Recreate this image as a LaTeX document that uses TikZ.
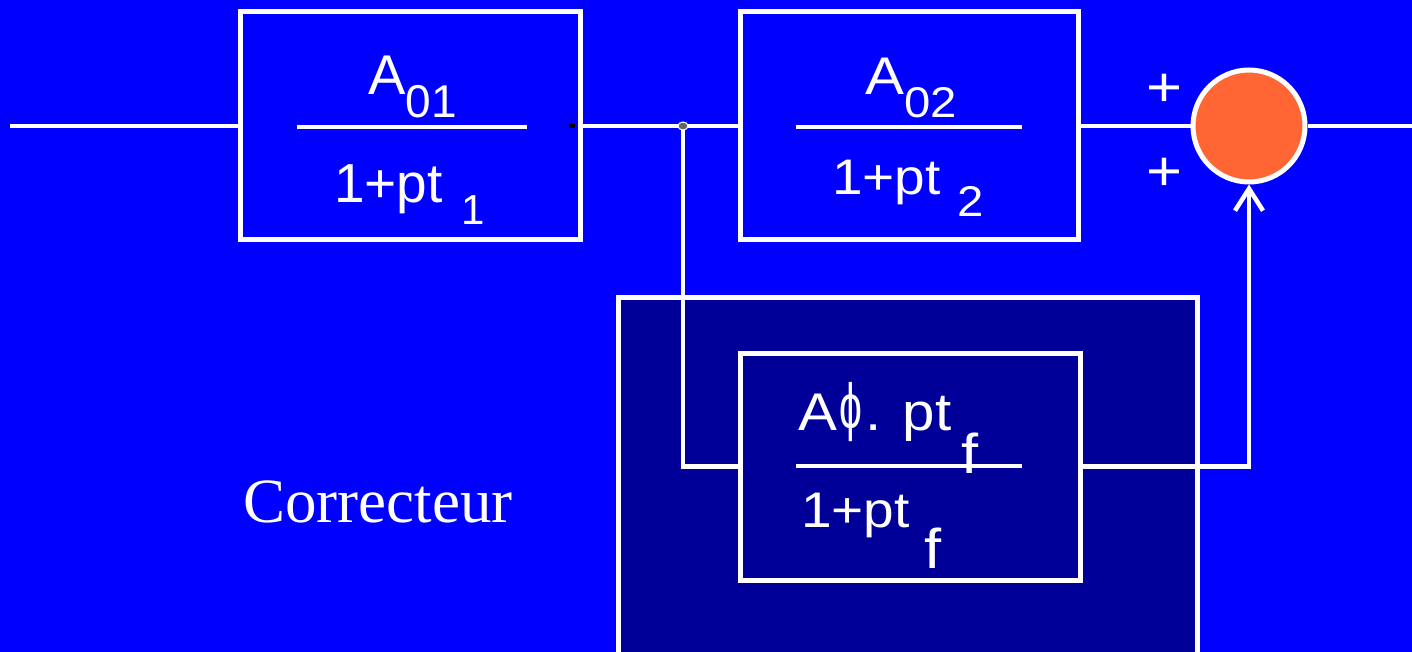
\documentclass[tikz,border=0pt]{standalone}
\usepackage{fontspec}
\setmainfont{Liberation Sans}
\newfontfamily\wide{Liberation Sans}[FakeStretch=1.1]
\newfontfamily\serifrm{Liberation Serif}
\usetikzlibrary{arrows.meta,shapes.geometric}
\definecolor{bgblue}{HTML}{0000FF}
\definecolor{navy}{HTML}{000099}
\definecolor{sumorange}{HTML}{FF6633}
\newcommand{\fsz}[1]{\fontsize{#1}{#1}\selectfont}

\begin{document}
\begin{tikzpicture}[x=1pt,y=-1pt,
  wire/.style={white,line width=4.5pt},
  block/.style={draw=white,line width=5pt,rectangle,inner sep=0pt},
  bar/.style={white,line width=4.5pt},
  txt/.style={text=white,inner sep=0pt,anchor=base west},
  sign/.style={text=white,inner sep=0pt,font=\wide\fsz{56}},
]
\useasboundingbox (0,0) rectangle (1412,652);
\clip (0,0) rectangle (1412,652);
\fill[bgblue] (0,0) rectangle (1412,652);

% corrector enclosure (runs off the bottom edge)
\node[block,fill=navy,anchor=north west,minimum width=579pt,minimum height=420pt] (corr) at (616,295) {};

% transfer blocks
\node[block,minimum width=340pt,minimum height=228pt] (b1) at (410,126) {};
\node[block,minimum width=338pt,minimum height=228pt] (b2) at (909,126) {};
\node[block,fill=navy,minimum width=340pt,minimum height=227pt] (bf) at (910,466.5) {};
\node[circle,draw=white,fill=sumorange,line width=5pt,minimum size=112pt,inner sep=0pt] (sum) at (1249,126) {};

\coordinate (in) at (10,126);
\coordinate (out) at (1412,126);
\coordinate (jp) at (683,126);

% signal paths
\draw[wire] (in) -- (b1.west);
\draw[wire] (b1.east) -- (b2.west);
\draw[wire] (b2.east) -- (sum.west);
\draw[wire] (sum.east) -- (out);
\draw[wire] (jp) |- (bf.west);
\draw[wire,-{Straight Barb[length=22pt,width=28pt]}] (bf.east) -| (sum.south);

% take-off point
\node[ellipse,draw=white,fill=black!60,line width=1pt,minimum width=10pt,minimum height=8pt,inner sep=0pt] (j) at (jp) {};
\fill[black] (569,124.5) rectangle (575,128.5);

% fraction bars
\draw[bar] (297,127) -- (527,127);
\draw[bar] (796,127) -- (1022,127);
\draw[bar] (796,466) -- (1022,466);

% block 1
\node[txt,font=\fsz{56}] (n1) at (368,95) {A\lower23pt\hbox{\fsz{46}01}};
\node[txt,font=\fsz{55}] (d1) at (334,203) {1+pt\hspace{19pt}\lower22pt\hbox{\fsz{42}1}};
% block 2
\node[txt,font=\wide\fsz{53}] (n2) at (865,95) {A\lower23pt\hbox{\fsz{43}02}};
\node[txt,font=\wide\fsz{50}] (d2) at (832,195) {1+pt\hspace{17pt}\lower22pt\hbox{\fsz{43}2}};
% corrector block
\node[txt,font=\wide\fsz{53}] (nf) at (798,430) {A\makebox[28pt][c]{\raisebox{2pt}{\scalebox{0.7}[1.2]{ϕ}}}. pt\hspace{10pt}\lower43pt\hbox{\fsz{56}f}};
\node[txt,font=\wide\fsz{50}] (df) at (801,527) {1+pt\hspace{15pt}\lower41pt\hbox{\fsz{56}f}};

% summing signs
\node[sign] (p1) at (1164,90) {+};
\node[sign] (p2) at (1164,174) {+};

\node[txt,font=\serifrm\fsz{63}] (lbl) at (243,522) {Correcteur};
\end{tikzpicture}
\end{document}
